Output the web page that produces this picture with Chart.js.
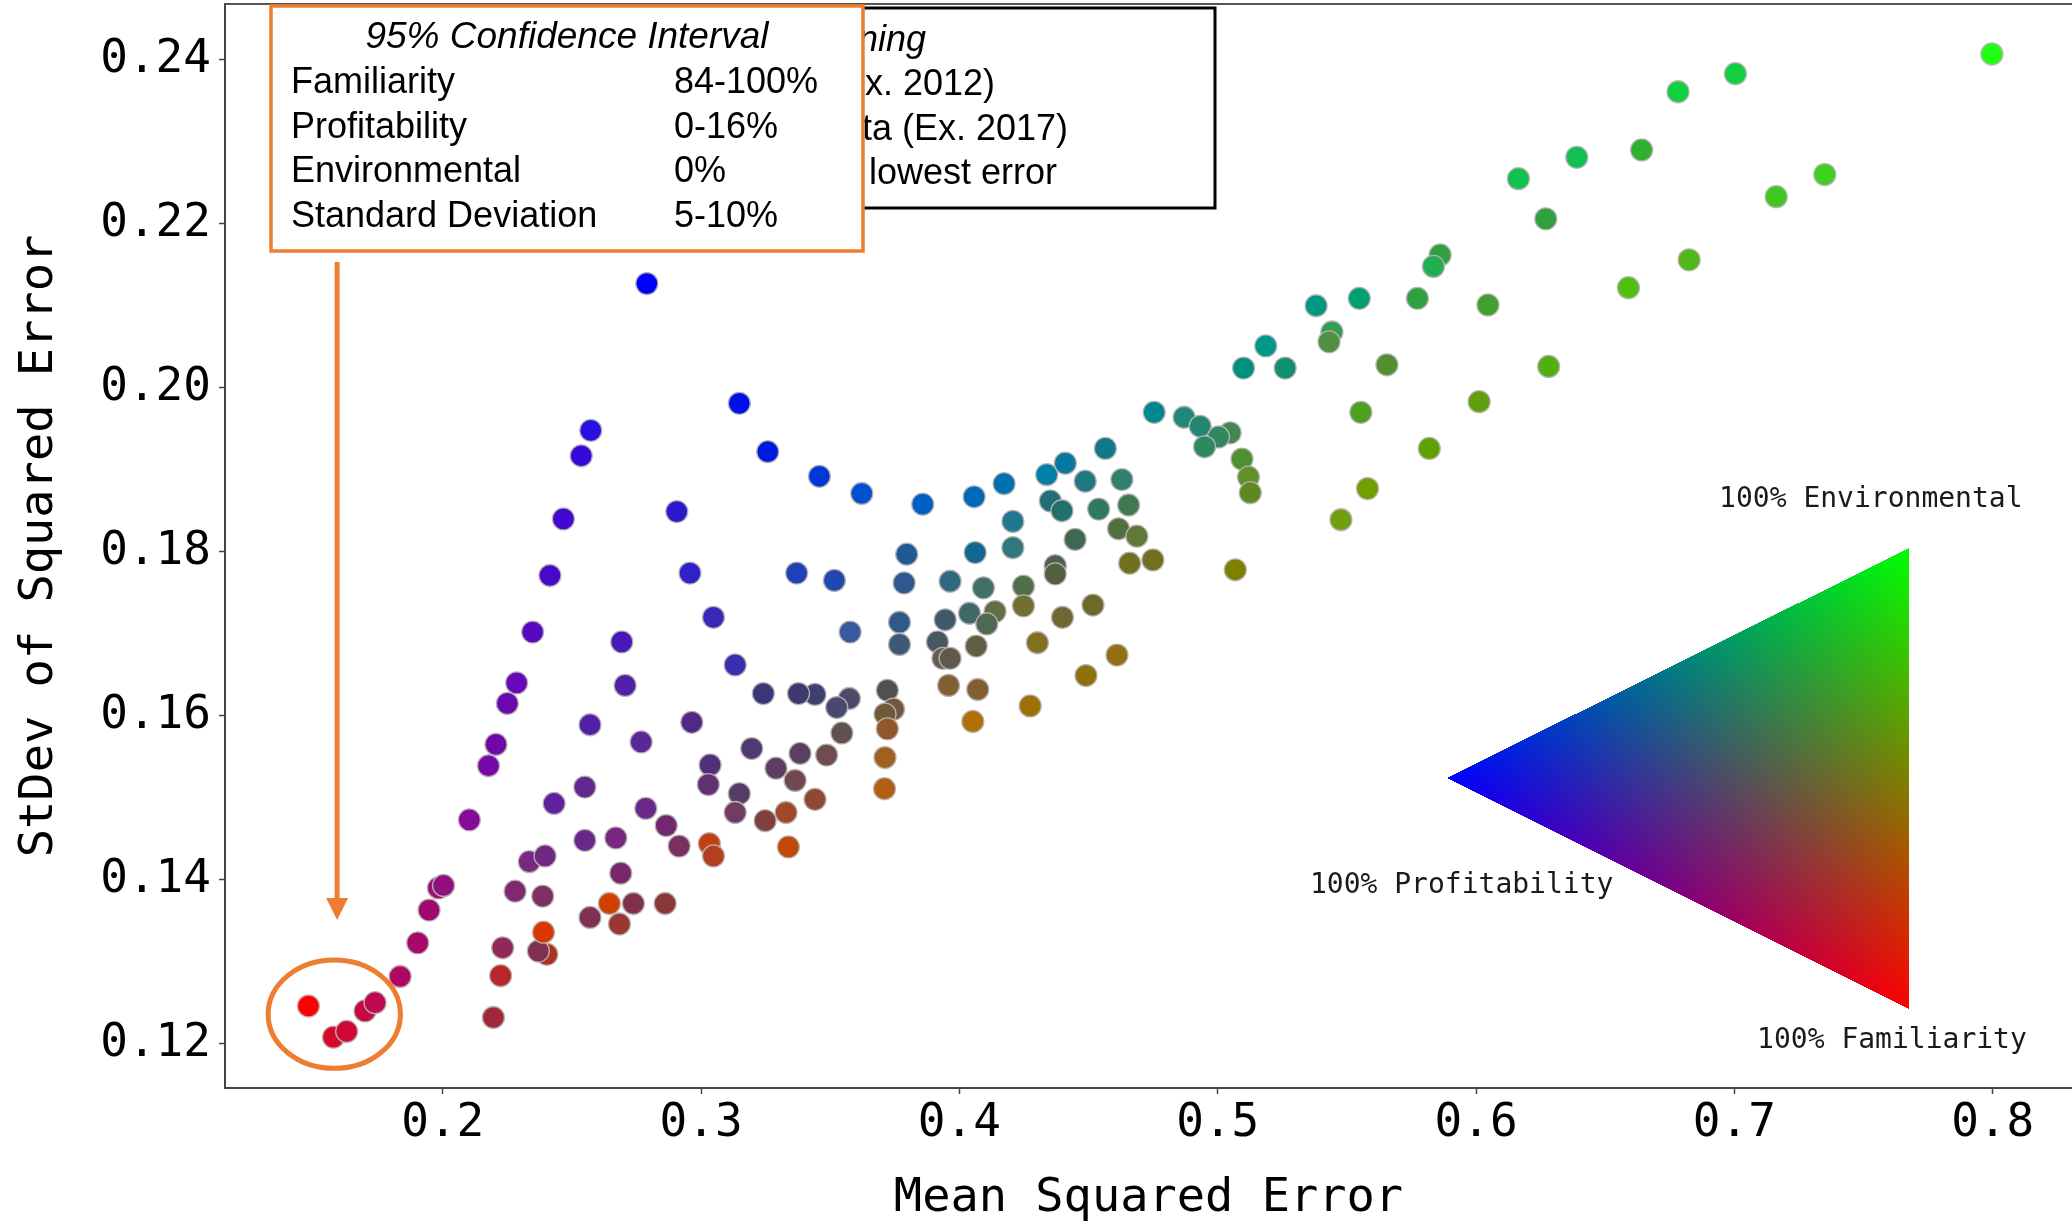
<!DOCTYPE html>
<html>
<head>
<meta charset="utf-8">
<script src="https://cdn.jsdelivr.net/npm/chart.js@4.4.1/dist/chart.umd.min.js"></script>
<style>
  html, body { margin: 0; padding: 0; background: #ffffff; }
  #wrap { width: 2072px; height: 1225px; position: relative; }
</style>
</head>
<body>
<div id="wrap"><canvas id="c" width="2072" height="1225"></canvas></div>
<script>
// ---------- DATA ----------
const xTicks = [0.2, 0.3, 0.4, 0.5, 0.6, 0.7, 0.8];
const yTicks = [0.12, 0.14, 0.16, 0.18, 0.20, 0.22, 0.24];

// Mean squared error of each weighting
const mseValues = [
  // familiarity -> profitability arm
  0.1480,0.1577,0.1628,0.1699,0.1738,0.1835,0.1903,0.1947,0.1983,0.2003,0.2103,0.2177,0.2206,0.2250,0.2286,0.2348,0.2415,0.2467,0.2536,0.2573,
  // lower-left cluster
  0.2196,0.2224,0.2232,0.2280,0.2335,0.2396,0.2387,0.2403,0.2370,0.2390,0.2431,0.2550,0.2550,0.2570,0.2570,0.2645,0.2684,0.2738,0.2861,0.2670,0.2689,0.2693,0.2706,0.2768,0.2786,0.2865,0.2915,0.2964,0.2906,0.2957,0.2790,
  // middle cluster
  0.3148,0.3258,0.3458,0.3622,0.3858,0.4057,0.4173,0.4338,0.3048,0.3132,0.3370,0.3516,0.3577,0.3796,0.3786,0.3768,0.3768,0.3964,0.4061,0.4207,0.4207,0.4093,0.3945,0.4039,0.4138,0.4106,0.4248,0.4248,0.4302,0.4274,0.4065,0.3915,
  0.3936,0.3964,0.3958,0.4071,0.4052,0.3721,0.3745,0.3712,0.3721,0.3712,0.3710,0.3574,0.3525,0.3545,0.3486,0.3383,0.3441,0.3377,0.3241,0.3196,0.3290,0.3364,0.3441,0.3329,0.3338,0.3248,0.3148,0.3132,0.3035,0.3028,0.3032,0.3048,
  // right-middle cluster
  0.4754,0.4870,0.4932,0.5048,0.5003,0.4949,0.5094,0.5119,0.5126,0.5554,0.5819,0.5580,0.5477,0.5068,0.4565,0.4410,0.4487,0.4629,0.4352,0.4397,0.4539,0.4655,0.4448,0.4616,0.4687,0.4659,0.4749,0.4371,0.4371,0.4517,0.4399,0.4610,0.4490,
  // upper-right cluster
  0.6164,0.6390,0.6641,0.6270,0.5861,0.5835,0.5381,0.5548,0.5773,0.6046,0.6590,0.5442,0.5431,0.5186,0.5100,0.5261,0.5655,0.6281,0.6012,0.7997,0.7004,0.6782,0.7350,0.7162,0.6825
];

// Standard deviation of squared error of each weighting
const stdevValues = [
  0.1246,0.1208,0.1215,0.1240,0.1250,0.1282,0.1323,0.1363,0.1390,0.1393,0.1473,0.1539,0.1565,0.1615,0.1640,0.1702,0.1771,0.1840,0.1917,0.1948,
  0.1232,0.1283,0.1317,0.1386,0.1422,0.1429,0.1380,0.1309,0.1313,0.1336,0.1493,0.1513,0.1448,0.1589,0.1354,0.1371,0.1346,0.1371,0.1371,0.1451,0.1408,0.1690,0.1637,0.1568,0.1487,0.1466,0.1441,0.1592,0.1849,0.1774,0.2127,
  0.1981,0.1922,0.1892,0.1871,0.1858,0.1867,0.1883,0.1894,0.1720,0.1662,0.1774,0.1765,0.1702,0.1797,0.1762,0.1714,0.1687,0.1764,0.1799,0.1837,0.1805,0.1756,0.1717,0.1725,0.1727,0.1712,0.1758,0.1734,0.1689,0.1612,0.1685,0.1690,
  0.1670,0.1670,0.1637,0.1632,0.1593,0.1631,0.1608,0.1602,0.1584,0.1549,0.1511,0.1621,0.1610,0.1579,0.1552,0.1554,0.1626,0.1627,0.1627,0.1560,0.1536,0.1521,0.1498,0.1482,0.1440,0.1472,0.1505,0.1482,0.1540,0.1516,0.1444,0.1429,
  0.1970,0.1964,0.1953,0.1945,0.1940,0.1928,0.1913,0.1891,0.1872,0.1970,0.1926,0.1877,0.1839,0.1778,0.1926,0.1908,0.1886,0.1888,0.1862,0.1850,0.1852,0.1857,0.1815,0.1828,0.1819,0.1786,0.1790,0.1783,0.1773,0.1735,0.1720,0.1674,0.1649,
  0.2255,0.2281,0.2290,0.2206,0.2162,0.2148,0.2100,0.2109,0.2109,0.2101,0.2122,0.2068,0.2056,0.2051,0.2024,0.2024,0.2028,0.2026,0.1983,0.2407,0.2383,0.2361,0.2260,0.2233,0.2156
];

// Weighting mix shown as colour (R = Familiarity, G = Environmental, B = Profitability)
const pointColors = [
  '#ff0000','#d8082c','#d00838','#c80840','#c00850','#b00860','#a80868','#a00870','#981078','#901080','#880898','#7808a8','#7008a8','#6808b0','#6808b8','#5808c0','#4808c8','#4008d0','#3808d8','#2810e0',
  '#a02838','#b82828','#902858','#802870','#782880','#702880','#803060','#b03020','#803050','#d83800','#6020a0','#602890','#682888','#5020a8','#803050','#d04000','#983830','#803048','#883838','#782880','#782868','#4818b8','#5020a8','#582898','#682888','#702870','#783060','#502888','#2818d0','#3020c8','#0000ff',
  '#0010e8','#0018e0','#0038d8','#0050d0','#0060c8','#0068b8','#0070b0','#0080a8','#3828b8','#3830b0','#2040b8','#2048b0','#3858a0','#205898','#305890','#305888','#405878','#306880','#106890','#207890','#307880','#407068','#405868','#406868','#607040','#506850','#507048','#707030','#807020','#a07008','#606040','#485860',
  '#606050','#605848','#806030','#806030','#b07008','#505050','#705840','#705838','#905828','#a06020','#b06010','#504868','#484870','#605050','#704c50','#584060','#404070','#403870','#383878','#503870','#603c60','#704850','#904830','#a04828','#c04808','#804040','#583c68','#703c60','#503078','#603070','#c04010','#b04020',
  '#008890','#208878','#208870','#408850','#308860','#308860','#509030','#609028','#608820','#50a020','#60a000','#70a000','#70a010','#808000','#107888','#0878a0','#207880','#308070','#207078','#207070','#307860','#407850','#406850','#507040','#607838','#707020','#707020','#506050','#506040','#706828','#706830','#907010','#907008',
  '#10c050','#10c050','#30b030','#30a040','#30a040','#20b050','#009880','#00a070','#30a040','#40a030','#50c010','#30a050','#509040','#009888','#009080','#109070','#509030','#50b010','#60a010','#20ff10','#10d040','#10d040','#40d020','#40c820','#50b818'
];

// Confidence-interval legend rows
const ciLabels = ['Familiarity', 'Profitability', 'Environmental', 'Standard Deviation'];
const ciRanges = ['84-100%', '0-16%', '0%', '5-10%'];
// Partly hidden legend (fragments visible behind the CI box)
const hiddenLegend = ['ning', 'x. 2012)', 'ta (Ex. 2017)', 'lowest error'];
// Triangle colour key labels
const cornerLabels = ['100% Environmental', '100% Profitability', '100% Familiarity'];

// Highlighted best cluster (data units)
const highlight = { x: 0.158, y: 0.1236, rx: 0.0256, ry: 0.0066 };
const arrowTarget = { x: 0.1591, y: 0.1351 };

// ---------- CHART ----------
const MONO = '"DejaVu Sans Mono", monospace';
const SANS = '"Liberation Sans", Arial, Helvetica, sans-serif';
const ORANGE = '#ed7d31';

const points = mseValues.map((v, i) => ({ x: v, y: stdevValues[i] }));

const overlayPlugin = {
  id: 'overlay',
  afterDatasetsDraw(chart) {
    const { ctx, chartArea: ca, scales } = chart;
    const sx = scales.x, sy = scales.y;
    const W = ca.right - ca.left, H = ca.bottom - ca.top;
    ctx.save();

    // top spine
    ctx.strokeStyle = '#555';
    ctx.lineWidth = 2;
    ctx.beginPath();
    ctx.moveTo(ca.left, ca.top);
    ctx.lineTo(ca.right, ca.top);
    ctx.stroke();

    // ---- colour triangle key ----
    const P = (fx, fy) => [ca.left + fx * W, ca.top + fy * H];
    const vL = P(0.6616, 0.714);   // profitability (blue)
    const vT = P(0.9118, 0.5018);  // environmental (green)
    const vB = P(0.9118, 0.9271);  // familiarity (red)
    const minX = Math.floor(Math.min(vL[0], vT[0], vB[0]));
    const maxX = Math.ceil(Math.max(vL[0], vT[0], vB[0]));
    const minY = Math.floor(Math.min(vL[1], vT[1], vB[1]));
    const maxY = Math.ceil(Math.max(vL[1], vT[1], vB[1]));
    const w = maxX - minX + 1, h = maxY - minY + 1;
    const off = document.createElement('canvas');
    off.width = w; off.height = h;
    const octx = off.getContext('2d');
    const img = octx.createImageData(w, h);
    const den = (vT[1] - vB[1]) * (vL[0] - vB[0]) + (vB[0] - vT[0]) * (vL[1] - vB[1]);
    for (let py = 0; py < h; py++) {
      for (let px = 0; px < w; px++) {
        const X = minX + px + 0.5, Y = minY + py + 0.5;
        const wL = ((vT[1] - vB[1]) * (X - vB[0]) + (vB[0] - vT[0]) * (Y - vB[1])) / den;
        const wT = ((vB[1] - vL[1]) * (X - vB[0]) + (vL[0] - vB[0]) * (Y - vB[1])) / den;
        const wB = 1 - wL - wT;
        if (wL >= 0 && wT >= 0 && wB >= 0) {
          const k = (py * w + px) * 4;
          img.data[k] = Math.round(255 * wB);
          img.data[k + 1] = Math.round(255 * wT);
          img.data[k + 2] = Math.round(255 * wL);
          img.data[k + 3] = 255;
        }
      }
    }
    octx.putImageData(img, 0, 0);
    ctx.drawImage(off, minX, minY);

    ctx.fillStyle = '#1a1a1a';
    ctx.font = '28px ' + MONO;
    ctx.textBaseline = 'middle';
    ctx.textAlign = 'left';
    ctx.fillText(cornerLabels[0], vT[0] - 190, vT[1] - 48);
    ctx.fillText(cornerLabels[1], vL[0] - 137, vL[1] + 108);
    ctx.fillText(cornerLabels[2], vB[0] - 152, vB[1] + 32);

    // ---- partly hidden black legend box ----
    ctx.fillStyle = '#ffffff';
    ctx.fillRect(700, 8, 515, 200);
    ctx.strokeStyle = '#000';
    ctx.lineWidth = 3;
    ctx.strokeRect(700, 8, 515, 200);
    ctx.fillStyle = '#000';
    ctx.font = 'italic 36px ' + SANS;
    ctx.fillText(hiddenLegend[0], 858, 41);
    ctx.font = '36px ' + SANS;
    ctx.fillText(hiddenLegend[1], 865, 85);
    ctx.fillText(hiddenLegend[2], 862, 130);
    ctx.fillText(hiddenLegend[3], 869, 174);

    // ---- orange confidence interval box ----
    ctx.fillStyle = '#ffffff';
    ctx.fillRect(271, 6, 592, 245);
    ctx.strokeStyle = ORANGE;
    ctx.lineWidth = 3.5;
    ctx.strokeRect(271, 6, 592, 245);
    ctx.fillStyle = '#000';
    ctx.textAlign = 'center';
    ctx.font = 'italic 37px ' + SANS;
    ctx.fillText('95% Confidence Interval', 567, 38);
    ctx.textAlign = 'left';
    ctx.font = '36px ' + SANS;
    const rowY = [83, 128, 172, 217];
    ciLabels.forEach((t, i) => {
      ctx.fillText(t, 291, rowY[i]);
      ctx.fillText(ciRanges[i], 674, rowY[i]);
    });

    // ---- arrow to best cluster ----
    const ax = sx.getPixelForValue(arrowTarget.x);
    const ay = sy.getPixelForValue(arrowTarget.y);
    ctx.strokeStyle = ORANGE;
    ctx.fillStyle = ORANGE;
    ctx.lineWidth = 5;
    ctx.beginPath();
    ctx.moveTo(ax, 262);
    ctx.lineTo(ax, ay - 20);
    ctx.stroke();
    ctx.beginPath();
    ctx.moveTo(ax - 11, ay - 22);
    ctx.lineTo(ax + 11, ay - 22);
    ctx.lineTo(ax, ay);
    ctx.closePath();
    ctx.fill();

    // ---- ellipse round best cluster ----
    const cx = sx.getPixelForValue(highlight.x);
    const cy = sy.getPixelForValue(highlight.y);
    const rx = Math.abs(sx.getPixelForValue(highlight.x + highlight.rx) - cx);
    const ry = Math.abs(sy.getPixelForValue(highlight.y + highlight.ry) - cy);
    ctx.lineWidth = 5;
    ctx.beginPath();
    ctx.ellipse(cx, cy, rx, ry, 0, 0, Math.PI * 2);
    ctx.stroke();

    ctx.restore();
  }
};

new Chart(document.getElementById('c'), {
  type: 'scatter',
  data: {
    datasets: [{
      data: points,
      backgroundColor: pointColors,
      borderColor: 'rgba(185,180,180,0.95)',
      borderWidth: 1.3,
      pointRadius: 11,
      pointHoverRadius: 11
    }]
  },
  options: {
    responsive: false,
    animation: false,
    devicePixelRatio: 1,
    layout: { autoPadding: false, padding: { top: 4, right: 0, bottom: 0, left: 0 } },
    plugins: { legend: { display: false }, tooltip: { enabled: false } },
    events: [],
    scales: {
      x: {
        type: 'linear',
        min: 0.1157,
        max: 0.8307,
        afterBuildTicks: s => { s.ticks = xTicks.map(v => ({ value: v })); },
        afterFit: s => { s.height = 137; s.paddingLeft = 0; s.paddingRight = 0; },
        ticks: {
          callback: v => v.toFixed(1),
          font: { family: MONO, size: 46 },
          color: '#000',
          padding: 2,
          maxRotation: 0,
          autoSkip: false
        },
        grid: { display: true, drawOnChartArea: false, drawTicks: true, tickLength: 6, color: '#444', tickWidth: 1.5 },
        border: { display: true, color: '#444', width: 2 },
        title: {
          display: true,
          text: 'Mean Squared Error',
          color: '#000',
          font: { family: MONO, size: 47, lineHeight: 1.1 },
          padding: { top: 0, bottom: 0 }
        }
      },
      y: {
        type: 'linear',
        min: 0.1146,
        max: 0.2468,
        afterBuildTicks: s => { s.ticks = yTicks.map(v => ({ value: v })); },
        afterFit: s => { s.width = 225; s.paddingTop = 0; s.paddingBottom = 0; },
        ticks: {
          callback: v => v.toFixed(2),
          font: { family: MONO, size: 46 },
          color: '#000',
          padding: 8,
          autoSkip: false
        },
        grid: { display: true, drawOnChartArea: false, drawTicks: true, tickLength: 6, color: '#444', tickWidth: 1.5 },
        border: { display: true, color: '#444', width: 2 },
        title: {
          display: true,
          text: 'StDev of Squared Error',
          color: '#000',
          font: { family: MONO, size: 47, lineHeight: 1.1 },
          padding: { top: 14, bottom: 0 }
        }
      }
    }
  },
  plugins: [overlayPlugin]
});
</script>
</body>
</html>
